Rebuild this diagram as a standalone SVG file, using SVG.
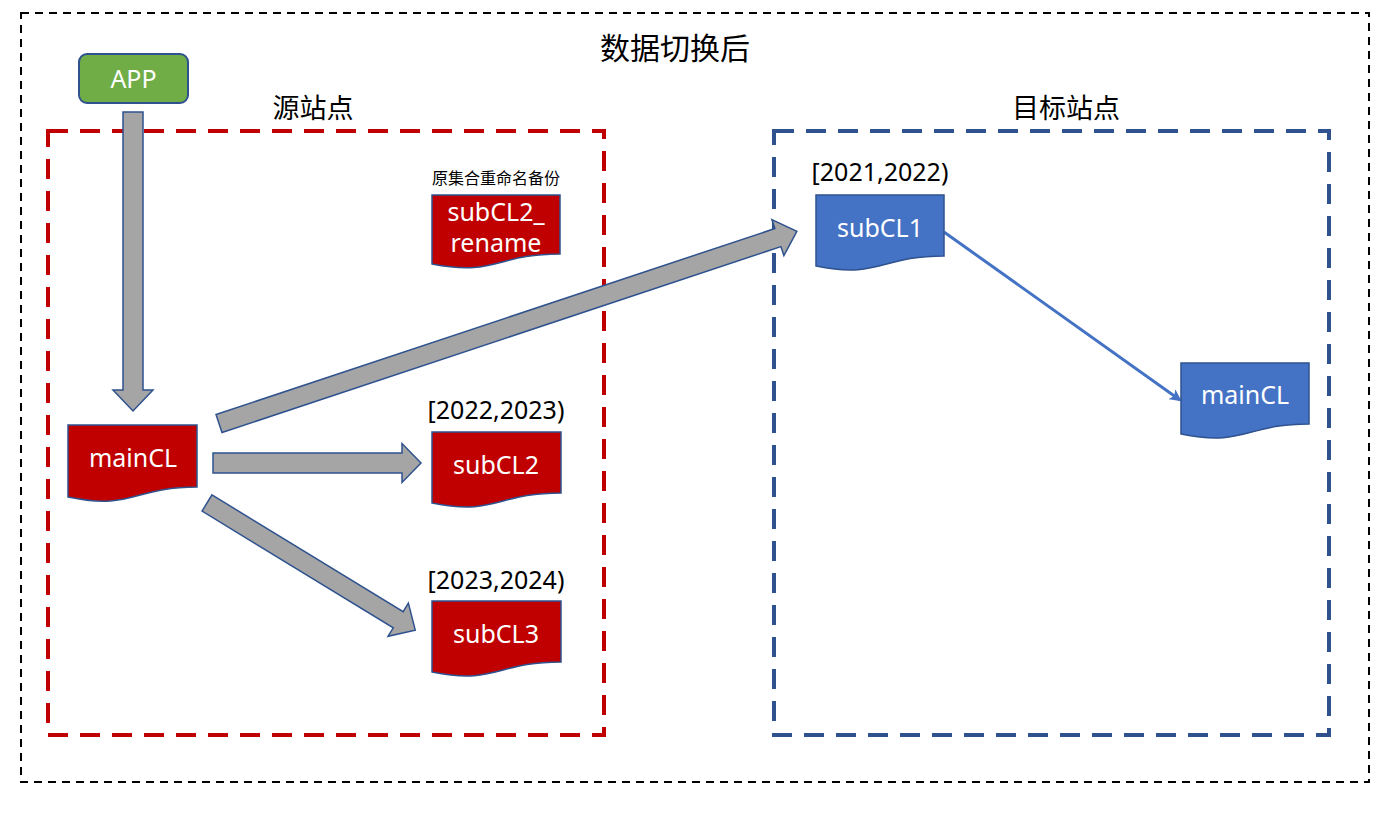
<svg xmlns="http://www.w3.org/2000/svg" width="1389" height="815" viewBox="0 0 1389 815">
<style>
.t{font-family:"Noto Sans","Noto Sans CJK SC",sans-serif;text-anchor:middle}
.w{fill:#fff;font-size:25px}
.k{fill:#000}
.red{fill:#C00000;stroke:#2F528F;stroke-width:1.5}
.blue{fill:#4472C4;stroke:#2F528F;stroke-width:1.5}
.ga{fill:#A5A5A5;stroke:#2F528F;stroke-width:1.5;stroke-linejoin:miter}
</style>
<defs>
<marker id="ah" markerWidth="12" markerHeight="12" refX="10" refY="6" orient="auto" markerUnits="userSpaceOnUse">
<path d="M0,0 L12,6 L0,12 L3,6 Z" fill="#4472C4"/>
</marker>
</defs>
<rect width="1389" height="815" fill="#fff"/>
<rect x="21" y="13" width="1348" height="769" fill="none" stroke="#000" stroke-width="2" stroke-dasharray="8,6"/>
<text class="t k" x="675" y="59" font-size="30">数据切换后</text>

<g id="site-src">
<rect x="48" y="131" width="556" height="604" fill="none" stroke="#C00000" stroke-width="4" stroke-dasharray="20,12"/>
<text class="t k" x="313" y="118" font-size="27">源站点</text>
</g>
<g id="site-dst">
<rect x="774" y="131" width="555" height="604" fill="none" stroke="#2F528F" stroke-width="4" stroke-dasharray="20,12"/>
<text class="t k" x="1066" y="118" font-size="27">目标站点</text>
</g>

<g id="connectors">
<polygon class="ga" transform="translate(133,112) rotate(90)" points="0,-10 278,-10 278,-20 299,0 278,20 278,10 0,10"/>
<polygon class="ga" transform="translate(213,463)" points="0,-10 189,-10 189,-19.5 208,0 189,19.5 189,10 0,10"/>
<polygon class="ga" transform="translate(207,503) rotate(31.4)" points="0,-9.5 224,-9.5 224,-19.5 244,0 224,19.5 224,9.5 0,9.5"/>
<polygon class="ga" transform="translate(219,423.5) rotate(-18.4)" points="0,-9.5 589,-9.5 589,-19 609,0 589,19 589,9.5 0,9.5"/>
<line x1="944" y1="232" x2="1180" y2="400" stroke="#4472C4" stroke-width="3" marker-end="url(#ah)"/>
</g>

<g id="app">
<rect x="79" y="54" width="109" height="49" rx="8" fill="#70AD47" stroke="#2F528F" stroke-width="2"/>
<text class="t w" x="133.5" y="88">APP</text>
</g>

<g id="mainCL-src">
<path class="red" d="M68,425 H197 V487 C132.5,487 132.5,510.5 68,497 Z"/>
<text class="t w" x="133" y="467">mainCL</text>
</g>

<g id="subCL2-rename">
<text class="t k" x="496" y="184" font-size="16">原集合重命名备份</text>
<path class="red" d="M432,195 H560 V254 C496,254 496,276.5 432,264 Z"/>
<text class="t w" x="496" y="221">subCL2_</text>
<text class="t w" x="496" y="252">rename</text>
</g>

<g id="subCL2">
<text class="t k" x="496" y="419" font-size="25">[2022,2023)</text>
<path class="red" d="M432,432 H561 V493 C496.5,493 496.5,516 432,503 Z"/>
<text class="t w" x="496" y="474">subCL2</text>
</g>

<g id="subCL3">
<text class="t k" x="496" y="589" font-size="25">[2023,2024)</text>
<path class="red" d="M432,601 H561 V662 C496.5,662 496.5,685 432,672 Z"/>
<text class="t w" x="496" y="643">subCL3</text>
</g>

<g id="subCL1">
<text class="t k" x="880" y="181" font-size="25">[2021,2022)</text>
<path class="blue" d="M816,195 H944 V256 C880,256 880,279 816,266 Z"/>
<text class="t w" x="880" y="237">subCL1</text>
</g>

<g id="mainCL-dst">
<path class="blue" d="M1181,363 H1309 V424 C1245,424 1245,447 1181,434 Z"/>
<text class="t w" x="1245" y="404">mainCL</text>
</g>
</svg>
